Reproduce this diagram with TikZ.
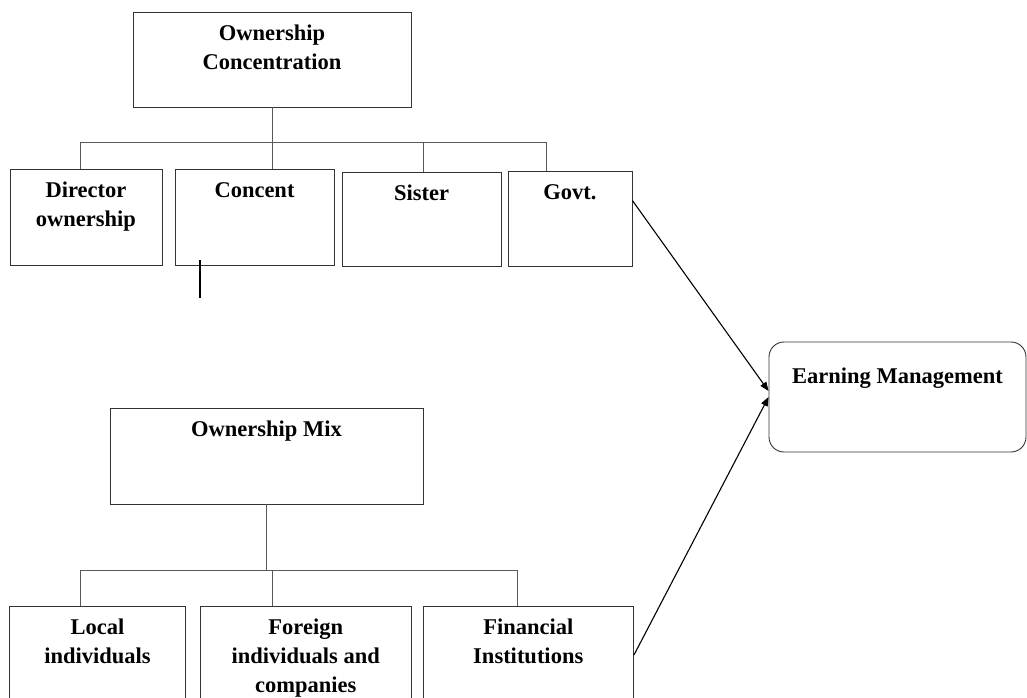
\documentclass[tikz,border=0pt]{standalone}
\usepackage{fontspec}
\setmainfont{Liberation Serif}
\usetikzlibrary{arrows.meta}
\begin{document}
\begin{tikzpicture}[x=1pt,y=-1pt,
  box/.style={draw=black!80, line width=0.9pt, inner sep=0pt, fill=white},
  lbl/.style={anchor=north, inner sep=0pt, align=center, yshift=-8.7pt,
    font=\fontsize{22.5}{29}\selectfont\bfseries},
  lblem/.style={lbl, yshift=-12.7pt},
  conn/.style={draw=black!65, line width=0.9pt},
  arr/.style={draw=black, line width=1.1pt, -{Triangle[length=9pt,width=7pt]}},
  tick/.style={draw=black, line width=1.6pt}]
\useasboundingbox (0,0) rectangle (1027,697);
\clip (0,0) rectangle (1027,697);
\fill[white] (0,0) rectangle (1027,697);

% connectors of the upper tree
\coordinate (ub1) at (80,142);
\coordinate (ub2) at (272,142);
\coordinate (ub3) at (423,142);
\coordinate (ub4) at (546,142);
% connectors of the lower tree
\coordinate (lb1) at (80,570);
\coordinate (lb2) at (272,570);
\coordinate (lb3) at (517,570);

% boxes
\node[box, minimum width=278pt, minimum height=95pt,
  label={[lbl]north:{\strut Ownership\\Concentration}}] (oc) at (272,59.5) {};
\node[box, minimum width=152pt, minimum height=96pt,
  label={[lbl]north:{\strut Director\\ownership}}] (dir) at (86,217) {};
\node[box, minimum width=159pt, minimum height=96pt,
  label={[lbl]north:{\strut Concent}}] (con) at (254.5,217) {};
\node[box, minimum width=159pt, minimum height=94pt,
  label={[lbl]north:{\strut Sister}}] (sis) at (421.5,219) {};
\node[box, minimum width=124pt, minimum height=95pt,
  label={[lbl]north:{\strut Govt.}}] (gov) at (570,218.5) {};
\node[box, rounded corners=15pt, minimum width=257pt, minimum height=110pt,
  label={[lblem]north:{\strut Earning Management}}] (em) at (897.5,397) {};
\node[box, minimum width=313pt, minimum height=96pt,
  label={[lbl]north:{\strut Ownership Mix}}] (om) at (266.5,456) {};
\node[box, minimum width=176pt, minimum height=100pt,
  label={[lbl]north:{\strut Local\\individuals}}] (loc) at (97.5,656) {};
\node[box, minimum width=210.5pt, minimum height=100pt,
  label={[lbl]north:{\strut Foreign\\individuals and\\companies}}] (for) at (305.75,656) {};
\node[box, minimum width=210.5pt, minimum height=100pt,
  label={[lbl]north:{\strut Financial\\Institutions}}] (fin) at (528.25,656) {};

% upper tree lines
\draw[conn] (oc.south) -- (oc.south |- ub2);
\draw[conn] (ub1) -- (ub4);
\draw[conn] (ub1) -- (ub1 |- dir.north);
\draw[conn] (ub2) -- (ub2 |- con.north);
\draw[conn] (ub3) -- (ub3 |- sis.north);
\draw[conn] (ub4) -- (ub4 |- gov.north);

% lower tree lines
\draw[conn] (om.south) -- (om.south |- lb2);
\draw[conn] (lb1) -- (lb3);
\draw[conn] (lb1) -- (lb1 |- loc.north);
\draw[conn] (lb2) -- (lb2 |- for.north);
\draw[conn] (lb3) -- (lb3 |- fin.north);

% small tick below Concent
\coordinate (tk1) at (200,260);
\coordinate (tk2) at (200,298);
\draw[tick] (tk1) -- (tk2);

% arrows to Earning Management
\draw[arr] ([yshift=-30pt]gov.north east) -- ([yshift=6pt]em.west);
\draw[arr] ([yshift=1pt]fin.east) -- (em.west);
\end{tikzpicture}
\end{document}
